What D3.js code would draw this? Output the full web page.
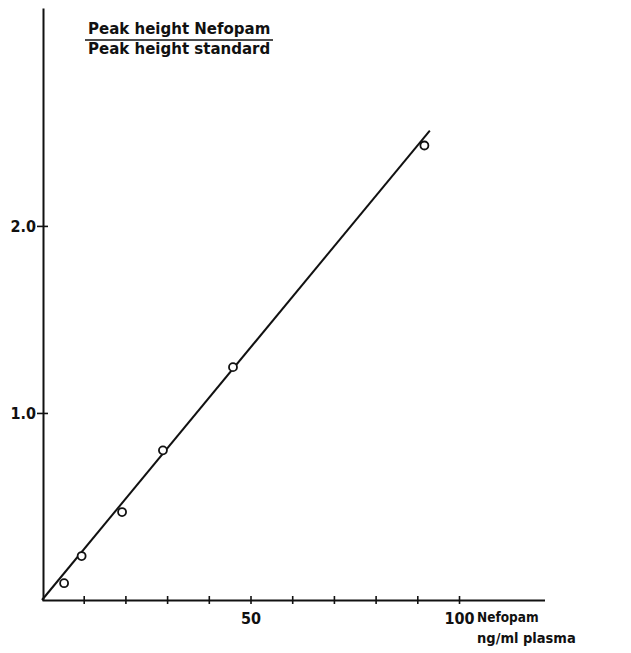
<!DOCTYPE html>
<html>
<head>
<meta charset="utf-8">
<script src="https://cdn.jsdelivr.net/npm/d3@7"></script>
<style>
  body { margin: 0; background: #fff; }
  text { font-family: "DejaVu Sans Condensed", "DejaVu Sans", sans-serif; font-weight: bold; fill: #111; }
  text.title { font-family: "DejaVu Sans", sans-serif; }
</style>
</head>
<body>
<div id="chart"></div>
<script>
// ===== DATA =====
const concentrations = [5.3, 9.5, 19.2, 29, 45.8, 91.7];        // ng/ml plasma
const peakRatios     = [0.09, 0.235, 0.47, 0.80, 1.245, 2.43];  // Nefopam / standard
const fitX = [0, 93];          // regression line end points
const fitY = [0, 2.51];
const xTicks = [10, 20, 30, 40, 50, 60, 70, 80, 90, 100];
const xTickLabels = { 50: "50", 100: "100" };
const yTicks = [1.0, 2.0];

const width = 631, height = 653;

const svg = d3.select('#chart')
    .append('svg')
    .attr('width', width)
    .attr('height', height);

// scales: origin at (42, 600), 10 units = 41.7px, 1.0 = 187px
const x = d3.scaleLinear().domain([0, 120.5]).range([42, 544.5]);
const y = d3.scaleLinear().domain([0, 3.165]).range([600, 8]);

// x axis, ticks cross the line
const xAxis = svg.append('g')
    .attr('transform', `translate(0,${y(0)})`)
    .call(d3.axisBottom(x).tickValues(xTicks).tickSize(0).tickFormat(''));
xAxis.select('.domain').attr('stroke', '#111').attr('stroke-width', 2);
xAxis.selectAll('.tick line').remove();
xAxis.selectAll('.tick')
    .append('line')
    .attr('y1', -4).attr('y2', 4)
    .attr('stroke', '#111').attr('stroke-width', 1.6);
xAxis.selectAll('.tick text').remove();
xAxis.selectAll('.tick')
    .filter(d => xTickLabels[d])
    .append('text')
    .attr('y', 24)
    .attr('text-anchor', 'middle')
    .attr('font-size', '16px')
    .text(d => xTickLabels[d]);

// y axis
const yAxis = svg.append('g')
    .attr('transform', `translate(${x(0) + 1},0)`)
    .call(d3.axisLeft(y).tickValues(yTicks).tickSize(0).tickFormat(''));
yAxis.select('.domain').attr('stroke', '#111').attr('stroke-width', 2);
yAxis.selectAll('.tick line').remove();
yAxis.selectAll('.tick')
    .append('line')
    .attr('x1', -6).attr('x2', 5)
    .attr('stroke', '#111').attr('stroke-width', 1.6);
yAxis.selectAll('.tick text').remove();
yAxis.selectAll('.tick')
    .append('text')
    .attr('x', -7)
    .attr('dy', '0.36em')
    .attr('text-anchor', 'end')
    .attr('font-size', '16px')
    .text(d => d.toFixed(1));

// y title as a fraction
const yTitle = svg.append('g');
yTitle.append('text')
    .attr('class', 'title')
    .attr('x', 88).attr('y', 34)
    .attr('font-size', '15px')
    .text('Peak height Nefopam');
yTitle.append('line')
    .attr('x1', 85).attr('x2', 273)
    .attr('y1', 40).attr('y2', 40)
    .attr('stroke', '#111').attr('stroke-width', 1.6);
yTitle.append('text')
    .attr('class', 'title')
    .attr('x', 88).attr('y', 54)
    .attr('font-size', '15px')
    .text('Peak height standard');

// x title
svg.append('text')
    .attr('x', 477).attr('y', 622)
    .attr('font-size', '13.5px')
    .text('Nefopam');
svg.append('text')
    .attr('x', 477).attr('y', 643)
    .attr('font-size', '14.5px')
    .text('ng/ml plasma');

// regression line
const line = d3.line()
    .x(d => x(d[0]))
    .y(d => y(d[1]));
svg.append('path')
    .datum(d3.zip(fitX, fitY))
    .attr('d', line)
    .attr('fill', 'none')
    .attr('stroke', '#111')
    .attr('stroke-width', 2);

// data points
svg.append('g')
    .selectAll('circle')
    .data(d3.zip(concentrations, peakRatios))
    .enter().append('circle')
    .attr('cx', d => x(d[0]))
    .attr('cy', d => y(d[1]))
    .attr('r', 4)
    .attr('fill', '#fff')
    .attr('stroke', '#111')
    .attr('stroke-width', 1.8);
</script>
</body>
</html>
